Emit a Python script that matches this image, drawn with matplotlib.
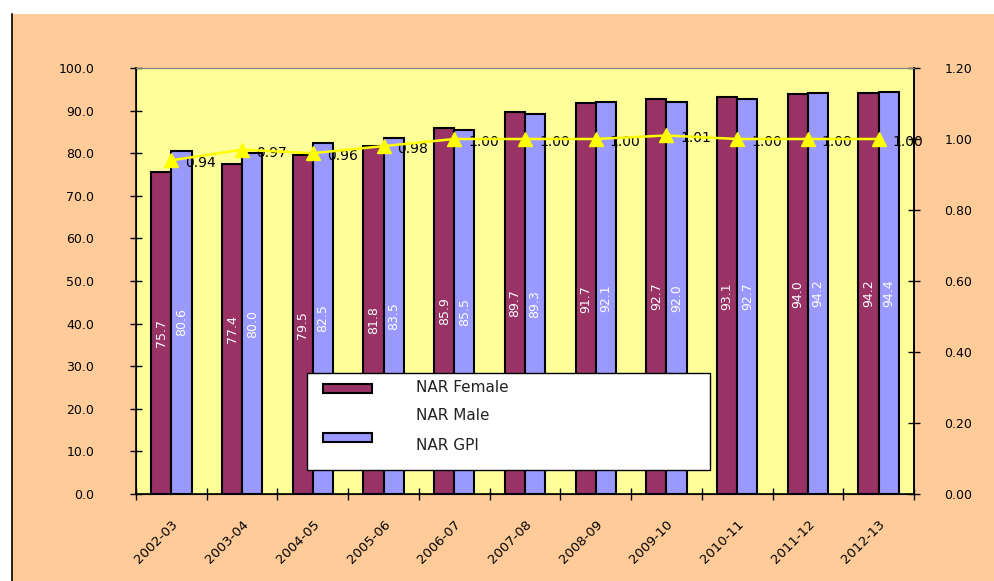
import matplotlib
matplotlib.use("Agg")
import matplotlib.pyplot as plt
import numpy as np
from matplotlib.patches import Rectangle

# Net admission rate by school year
years = ["2002-03", "2003-04", "2004-05", "2005-06", "2006-07", "2007-08",
         "2008-09", "2009-10", "2010-11", "2011-12", "2012-13"]
nar_female = [75.7, 77.4, 79.5, 81.8, 85.9, 89.7, 91.7, 92.7, 93.1, 94.0, 94.2]
nar_male = [80.6, 80.0, 82.5, 83.5, 85.5, 89.3, 92.1, 92.0, 92.7, 94.2, 94.4]
nar_gpi = [0.94, 0.97, 0.96, 0.98, 1.00, 1.00, 1.00, 1.01, 1.00, 1.00, 1.00]

W, H = 995, 581
fig = plt.figure(figsize=(W / 100, H / 100), dpi=100)
fig.patch.set_facecolor("white")

# orange panel behind the chart, with a dark left edge
fig.patches.append(Rectangle((12 / W, 0), 1 - 12 / W, 1 - 14 / H, transform=fig.transFigure,
                             facecolor="#FFCC99", edgecolor="none", zorder=-2))
fig.lines.append(plt.Line2D([12 / W, 12 / W], [0, 1 - 14 / H], transform=fig.transFigure,
                            color="black", lw=1.2, zorder=-1))

ax = fig.add_axes([136 / W, 1 - 494 / H, (914 - 136) / W, (494 - 68) / H])
ax.set_facecolor("#FFFF99")

x = np.arange(len(years))
bw = 0.285
ax.bar(x - bw / 2, nar_female, bw, color="#993366", edgecolor="black", linewidth=1.5, zorder=2)
ax.bar(x + bw / 2, nar_male, bw, color="#9999FF", edgecolor="black", linewidth=1.5, zorder=2)

for i in range(len(years)):
    ax.text(x[i] - bw / 2, nar_female[i] / 2, f"{nar_female[i]:.1f}", rotation=90,
            ha="center", va="center", color="white", fontsize=9, zorder=3)
    ax.text(x[i] + bw / 2, nar_male[i] / 2, f"{nar_male[i]:.1f}", rotation=90,
            ha="center", va="center", color="white", fontsize=9, zorder=3)

ax.set_xlim(-0.5, len(years) - 0.5)
ax.set_ylim(0, 100)
ax.set_yticks(np.arange(0, 101, 10))
ax.set_yticklabels([f"{v:.1f}" for v in np.arange(0, 101, 10)], fontsize=9)
ax.tick_params(axis="y", direction="inout", length=8, pad=26, width=1)

ax.set_xticks(x)
ax.set_xticklabels(years, rotation=45, ha="right", rotation_mode="anchor", fontsize=9.5)
ax.set_xticks(np.arange(-0.5, len(years)), minor=True)
ax.tick_params(axis="x", which="major", length=0, pad=17)
ax.tick_params(axis="x", which="minor", direction="inout", length=8, width=1)

for side in ["left", "bottom", "right"]:
    ax.spines[side].set_color("black")
    ax.spines[side].set_linewidth(1.2)
ax.spines["top"].set_color("gray")

# GPI on the secondary axis
ax2 = ax.twinx()
ax2.plot(x, nar_gpi, color="#FFFF00", lw=1.8, marker="^", markersize=10, zorder=5)
for i in range(len(years)):
    ax2.annotate(f"{nar_gpi[i]:.2f}", (x[i], nar_gpi[i]), xytext=(14, -3),
                 textcoords="offset pixels", ha="left", va="center", fontsize=10)
ax2.set_ylim(0, 1.2)
ax2.set_yticks(np.arange(0, 1.21, 0.2))
ax2.set_yticklabels([f"{v:.2f}" for v in np.arange(0, 1.21, 0.2)], fontsize=9)
ax2.tick_params(axis="y", direction="inout", length=8, pad=18, width=1)
ax2.spines["right"].set_color("black")
ax2.spines["right"].set_linewidth(1.2)
ax2.spines["top"].set_color("gray")

# legend box
def px(xp, yp):
    return xp / W, 1 - yp / H

fig.patches.append(Rectangle(px(307, 470), (710 - 307) / W, (470 - 373) / H,
                             transform=fig.transFigure, facecolor="white",
                             edgecolor="black", lw=1, zorder=10))
for ytop, col in [(384, "#993366"), (433, "#9999FF")]:
    fig.patches.append(Rectangle(px(323, ytop + 9), 49 / W, 9 / H, transform=fig.transFigure,
                                 facecolor=col, edgecolor="black", lw=1.5, zorder=11))
for yp, label in [(388, "NAR Female"), (416, "NAR Male"), (445, "NAR GPI")]:
    fig.text(*px(416, yp), label, ha="left", va="center", fontsize=11, color="#222222", zorder=12)

fig.savefig("out.png", dpi=100, facecolor=fig.get_facecolor())
